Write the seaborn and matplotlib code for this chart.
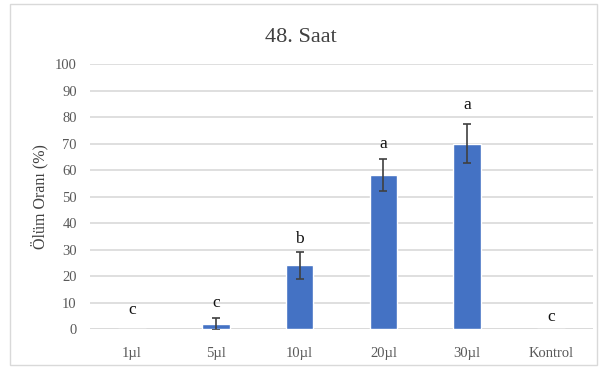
import matplotlib
matplotlib.use("Agg")
import matplotlib.pyplot as plt
import seaborn as sns
import pandas as pd
from matplotlib.patches import Rectangle

categories = ["1µl", "5µl", "10µl", "20µl", "30µl", "Kontrol"]
values = [0, 2, 24, 58, 70, 0]
errors = [0, 2.3, 5, 6, 7.5, 0]
letters = ["c", "c", "b", "a", "a", "c"]
letter_y = [7, 10, 34, 70, 84.5, 4.5]
yticks = [0, 10, 20, 30, 40, 50, 60, 70, 80, 90, 100]

sns.set_style("white")
plt.rcParams['font.family'] = ['Liberation Serif', 'DejaVu Serif']

df = pd.DataFrame({"cat": categories, "val": values})

fig = plt.figure(figsize=(6.01, 3.67), dpi=100)
ax = fig.add_axes([0.1498, 0.1035, 0.837, 0.722])

sns.barplot(data=df, x="cat", y="val", color="#4472C4", width=0.33,
            saturation=1, ax=ax, errorbar=None, zorder=3)
xs = range(len(categories))
for x, v, e in zip(xs, values, errors):
    if e > 0:
        ax.errorbar(x, v, yerr=e, fmt="none", ecolor="#404040", elinewidth=1.2,
                    capsize=3, capthick=1.2, zorder=4)
for x, t, y in zip(xs, letters, letter_y):
    ax.text(x, y, t, ha="center", va="center", fontsize=12.5, color="#111111", zorder=5)

ax.set_ylim(0, 100)
ax.set_xlim(-0.5, len(categories) - 0.5)
ax.set_yticks(yticks)
ax.yaxis.grid(True, color="#d9d9d9", linewidth=1.2)
ax.set_axisbelow(True)
for s in ax.spines.values():
    s.set_visible(False)
ax.axhline(0, color="#d9d9d9", linewidth=1.2, zorder=2)
ax.tick_params(axis="y", length=0, labelsize=10.5, colors="#595959", pad=9.5)
ax.tick_params(axis="x", length=0, labelsize=10.5, colors="#595959", pad=13)
ax.set_xlabel("")
ax.set_ylabel("")
fig.text(40 / 601, 1 - 197 / 367, "Ölüm Oranı (%)", rotation=90, ha="center", va="center",
         fontsize=11.5, color="#404040")
fig.text(0.5, 1 - 38 / 367, "48. Saat", ha="center", va="center", fontsize=16, color="#404040")

fig.patches.append(Rectangle((10 / 601, 2 / 367), 587 / 601, 361 / 367, transform=fig.transFigure,
                             fill=False, edgecolor="#d9d9d9", linewidth=1))

fig.savefig("out.png", dpi=100)
